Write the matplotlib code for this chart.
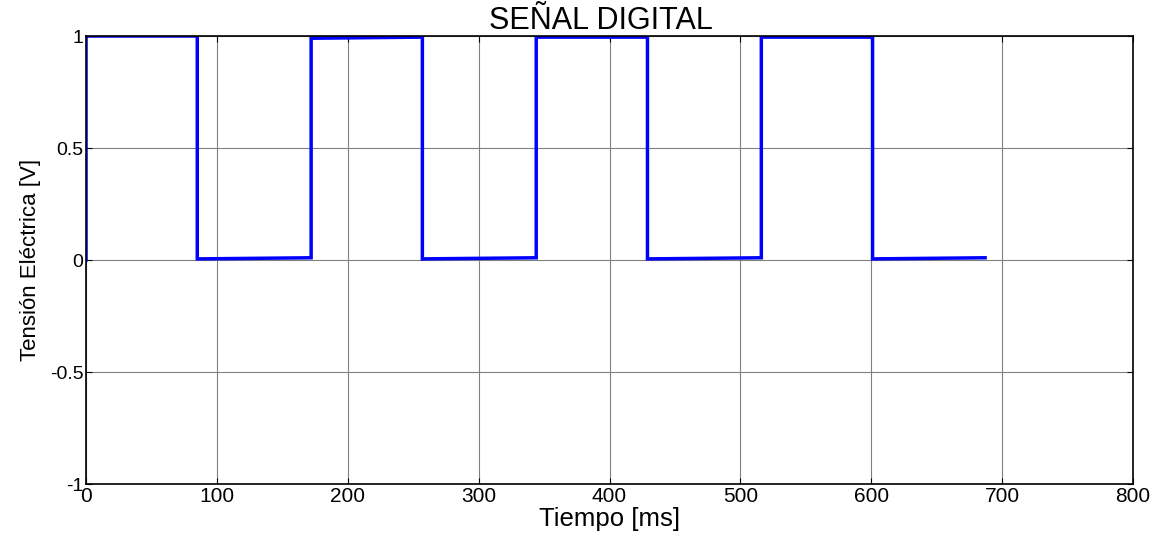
import numpy as np
import matplotlib
matplotlib.use('Agg')
import matplotlib.pyplot as plt

# puntos de la señal (tiempo en ms, tension en V)
t = [0, 0, 85, 85, 172, 172, 257, 257, 344, 344, 429, 429, 516, 516, 601, 601, 687]
v = [0, 1, 1, 0.005, 0.01, 0.99, 0.995, 0.005, 0.01, 0.995, 0.995, 0.005, 0.01, 0.995, 0.995, 0.005, 0.01]

xticks = [0, 100, 200, 300, 400, 500, 600, 700, 800]
yticks = [-1, -0.5, 0, 0.5, 1]
ytick_labels = ['-1', '-0.5', '0', '0.5', '1']

plt.rcParams['font.family'] = ['Liberation Sans', 'DejaVu Sans']

fig = plt.figure(figsize=(11.58, 5.35), dpi=100)
ax = fig.add_axes([0.0743, 0.0953, 0.9041, 0.8374])

ax.plot(t, v, color=(0, 0, 1), linewidth=2.5, solid_joinstyle='miter')

ax.set_xlim(0, 800)
ax.set_ylim(-1, 1)
ax.set_xticks(xticks)
ax.set_yticks(yticks)
ax.set_yticklabels(ytick_labels)
ax.grid(True, color='#808080', linewidth=0.8, linestyle='-')
ax.set_axisbelow(True)
ax.tick_params(direction='in', top=True, right=True, length=4, width=0.8, pad=2)
ax.tick_params(axis='x', labelsize=15)
ax.tick_params(axis='y', labelsize=14)
for s in ax.spines.values():
    s.set_linewidth(1.2)

ax.set_title('SEÑAL DIGITAL', fontsize=22, pad=5, x=0.492)
ax.set_xlabel('Tiempo [ms]', fontsize=18.5, labelpad=1)
ax.set_ylabel('Tensión Eléctrica [V]', fontsize=16, labelpad=6)

fig.savefig('out.png', dpi=100)
